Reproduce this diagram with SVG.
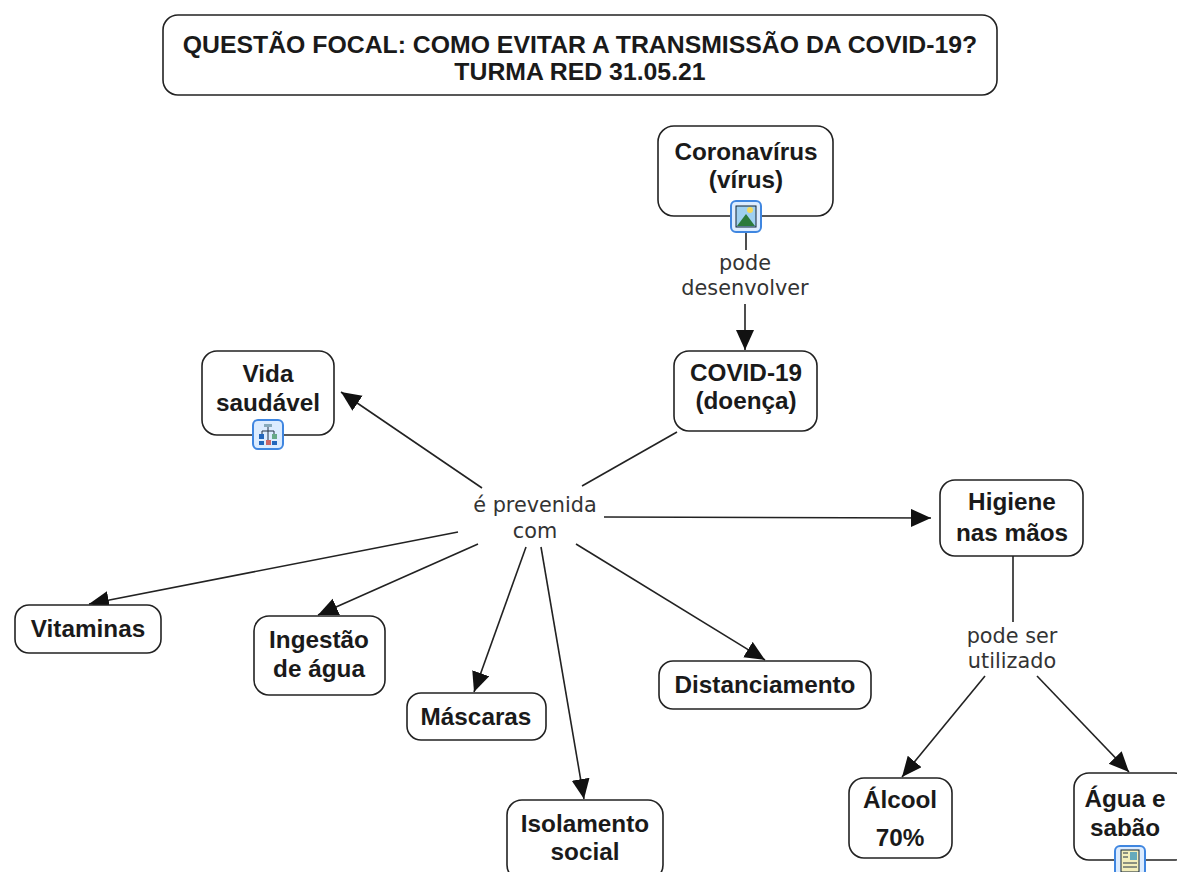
<svg xmlns="http://www.w3.org/2000/svg" width="1177" height="872" viewBox="0 0 1177 872">
<style>
.b{fill:#fff;stroke:#222;stroke-width:1.6}
.c{stroke:#222;stroke-width:1.6;fill:none}
.t{font-family:"Liberation Sans",Arial,sans-serif;font-weight:bold;font-size:24.3px;fill:#1a1a1a;text-anchor:middle}
.h{font-size:24.8px}
.l{font-family:"DejaVu Sans",Verdana,sans-serif;font-size:20.8px;fill:#333;text-anchor:middle}
.ib{fill:#dcecff;stroke:#3f86e0;stroke-width:2}
</style>
<defs>
<marker id="a" markerUnits="userSpaceOnUse" markerWidth="22" markerHeight="20" refX="20" refY="9" orient="auto"><path d="M0 0L20 9L0 18Z" fill="#111"/></marker>
</defs>
<rect width="1177" height="872" fill="#fff"/>
<g id="connectors">
<path class="c" d="M746 232V250"/>
<path class="c" d="M745 304V350" marker-end="url(#a)"/>
<path class="c" d="M677 432L582 486"/>
<path class="c" d="M482 488L341 392" marker-end="url(#a)"/>
<path class="c" d="M604 517L931 518" marker-end="url(#a)"/>
<path class="c" d="M458 532L89 604" marker-end="url(#a)"/>
<path class="c" d="M478 544L318 615" marker-end="url(#a)"/>
<path class="c" d="M526 547L474 692" marker-end="url(#a)"/>
<path class="c" d="M541 547L584 799" marker-end="url(#a)"/>
<path class="c" d="M576 544L765 660" marker-end="url(#a)"/>
<path class="c" d="M1013 556V622"/>
<path class="c" d="M985 676L902 777" marker-end="url(#a)"/>
<path class="c" d="M1037 676L1129 772" marker-end="url(#a)"/>
</g>
<g id="title"><rect class="b" x="163" y="15" width="834" height="80" rx="15"/><text class="t h" x="580" y="53">QUESTÃO FOCAL: COMO EVITAR A TRANSMISSÃO DA COVID-19?</text><text class="t h" x="580" y="80">TURMA RED 31.05.21</text></g>
<g id="coronavirus"><rect class="b" x="658" y="126" width="175" height="90" rx="16"/><text class="t" x="746" y="160">Coronavírus</text><text class="t" x="746" y="188">(vírus)</text>
<rect class="ib" x="731" y="201" width="30" height="31" rx="5"/><rect x="736" y="206" width="20" height="21" fill="#9fd0f0" stroke="#123"/><path d="M737 226L746 214L755 226Z" fill="#2c7a3a"/><circle cx="750" cy="210" r="3" fill="#f4d95a"/></g>
<g id="covid"><rect class="b" x="674" y="351" width="143" height="80" rx="15"/><text class="t" x="746" y="381">COVID-19</text><text class="t" x="746" y="409">(doença)</text></g>
<g id="vida"><rect class="b" x="202" y="351" width="132" height="84" rx="15"/><text class="t" x="268" y="382">Vida</text><text class="t" x="268" y="411">saudável</text>
<rect class="ib" x="253" y="420" width="30" height="29" rx="5"/><path d="M268 426V431M262 431H274V436M262 431V436M268 431V441" stroke="#234" fill="none"/><rect x="264" y="424" width="8" height="3" fill="#8ab"/><rect x="259" y="434" width="5" height="5" fill="#26b"/><rect x="272" y="434" width="5" height="5" fill="#6a8"/><rect x="259" y="441" width="5" height="4" fill="#26b"/><rect x="266" y="440" width="5" height="5" fill="#c66"/><rect x="272" y="441" width="5" height="4" fill="#26b"/></g>
<g id="prevenida"><text class="l" x="535" y="512">é prevenida</text><text class="l" x="535" y="538">com</text></g>
<g id="desenvolver"><text class="l" x="745" y="270">pode</text><text class="l" x="745" y="295">desenvolver</text></g>
<g id="utilizado"><text class="l" x="1012" y="643">pode ser</text><text class="l" x="1012" y="668">utilizado</text></g>
<g id="higiene"><rect class="b" x="940" y="480" width="143" height="76" rx="15"/><text class="t" x="1012" y="510">Higiene</text><text class="t" x="1012" y="541">nas mãos</text></g>
<g id="vitaminas"><rect class="b" x="15" y="605" width="146" height="48" rx="14"/><text class="t" x="88" y="637">Vitaminas</text></g>
<g id="agua"><rect class="b" x="254" y="616" width="131" height="79" rx="15"/><text class="t" x="319" y="648">Ingestão</text><text class="t" x="319" y="677">de água</text></g>
<g id="mascaras"><rect class="b" x="407" y="693" width="139" height="47" rx="14"/><text class="t" x="476" y="725">Máscaras</text></g>
<g id="distanciamento"><rect class="b" x="659" y="661" width="212" height="48" rx="14"/><text class="t" x="765" y="693">Distanciamento</text></g>
<g id="isolamento"><rect class="b" x="507" y="800" width="156" height="80" rx="15"/><text class="t" x="585" y="832">Isolamento</text><text class="t" x="585" y="860">social</text></g>
<g id="alcool"><rect class="b" x="849" y="778" width="103" height="80" rx="15"/><text class="t" x="900" y="808">Álcool</text><text class="t" x="900" y="846">70%</text></g>
<g id="sabao"><rect class="b" x="1074" y="773" width="115" height="87" rx="15"/><text class="t" x="1125" y="807">Água e</text><text class="t" x="1125" y="836">sabão</text>
<rect class="ib" x="1115" y="846" width="30" height="30" rx="5"/><rect x="1121" y="850" width="18" height="22" fill="#f3eebb" stroke="#123"/><rect x="1130" y="852" width="7" height="8" fill="#6ab"/><path d="M1123 853H1128M1123 857H1128M1123 863H1137M1123 867H1137" stroke="#234"/></g>
</svg>
